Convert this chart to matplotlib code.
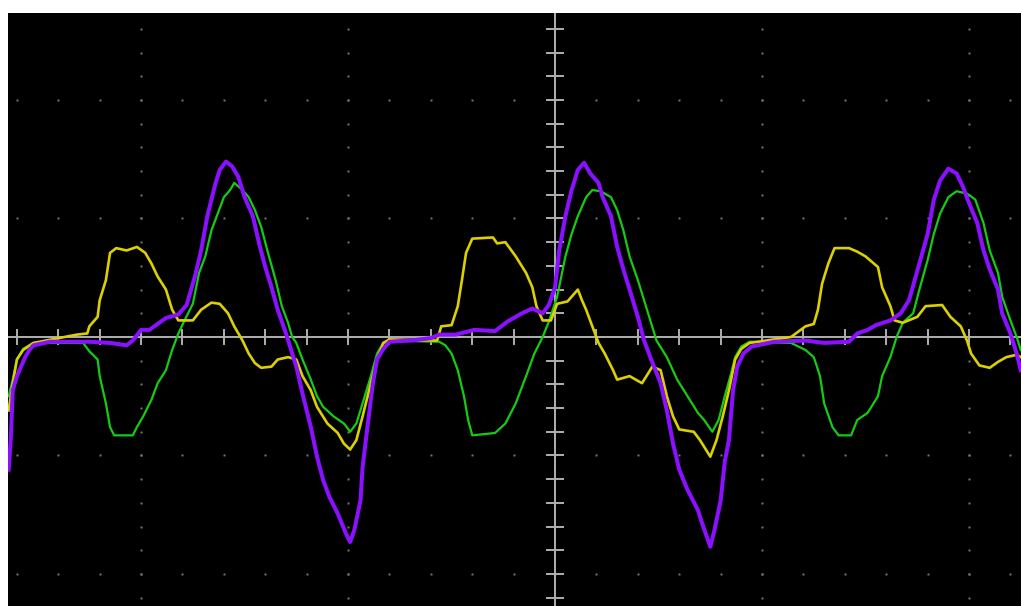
import matplotlib
matplotlib.use("Agg")
import matplotlib.pyplot as plt
import numpy as np

# scope screen, values in divisions (x: time div, y: volts div)
purple_t = [-2.64, -2.63, -2.62, -2.60, -2.58, -2.56, -2.54, -2.52, -2.44, -2.36, -2.25, -2.15, -2.07, -2.04,
            -2.00, -1.96, -1.88, -1.82, -1.78, -1.74, -1.71, -1.68, -1.64, -1.62, -1.59, -1.56, -1.53, -1.50,
            -1.46, -1.43, -1.40, -1.37, -1.34, -1.30, -1.27, -1.25, -1.22, -1.18, -1.15, -1.12, -1.09, -1.05,
            -1.01, -0.99, -0.97, -0.94, -0.93, -0.91, -0.88, -0.86, -0.83, -0.80, -0.70, -0.60, -0.56, -0.48,
            -0.39, -0.29, -0.23, -0.16, -0.11, -0.06, -0.03, 0.00, 0.02, 0.05, 0.08, 0.11, 0.14, 0.17, 0.21,
            0.23, 0.27, 0.30, 0.33, 0.36, 0.40, 0.43, 0.46, 0.51, 0.54, 0.57, 0.60, 0.64, 0.69, 0.71, 0.75,
            0.77, 0.80, 0.82, 0.84, 0.86, 0.88, 0.91, 0.95, 1.06, 1.21, 1.30, 1.42, 1.46, 1.51, 1.55, 1.62,
            1.67, 1.71, 1.76, 1.80, 1.83, 1.86, 1.90, 1.94, 1.97, 2.00, 2.04, 2.07, 2.10, 2.14, 2.16, 2.20,
            2.23, 2.25]
purple_v = [-1.12, -0.87, -0.45, -0.33, -0.25, -0.17, -0.11, -0.07, -0.04, -0.04, -0.04, -0.05, -0.07, -0.03,
            0.06, 0.06, 0.16, 0.19, 0.27, 0.51, 0.73, 1.02, 1.30, 1.41, 1.48, 1.44, 1.35, 1.18,
            1.02, 0.79, 0.59, 0.42, 0.23, 0.03, -0.14, -0.25, -0.48, -0.76, -1.01, -1.21, -1.35, -1.49,
            -1.66, -1.73, -1.63, -1.38, -1.10, -0.81, -0.39, -0.19, -0.10, -0.04, -0.03, -0.01, 0.02, 0.02,
            0.06, 0.05, 0.13, 0.20, 0.24, 0.20, 0.27, 0.42, 0.73, 1.02, 1.24, 1.41, 1.47, 1.38, 1.30,
            1.18, 1.02, 0.76, 0.57, 0.40, 0.17, -0.03, -0.17, -0.39, -0.62, -0.90, -1.12, -1.29, -1.46, -1.57, -1.77,
            -1.63, -1.38, -1.05, -0.87, -0.45, -0.25, -0.14, -0.08, -0.04, -0.03, -0.05, -0.04, 0.03, 0.06, 0.10, 0.14,
            0.20, 0.31, 0.62, 0.87, 1.16, 1.32, 1.42, 1.38, 1.27, 1.13, 0.96, 0.73, 0.57, 0.40, 0.20, 0.03,
            -0.14, -0.28]

green_t = [-2.64, -2.62, -2.60, -2.57, -2.52, -2.28, -2.25, -2.21, -2.20, -2.17, -2.15, -2.13, -2.04, -2.02,
           -1.99, -1.95, -1.92, -1.88, -1.85, -1.82, -1.79, -1.75, -1.72, -1.69, -1.66, -1.63, -1.60, -1.57,
           -1.55, -1.51, -1.48, -1.45, -1.42, -1.39, -1.35, -1.32, -1.29, -1.27, -1.25, -1.22, -1.18, -1.15,
           -1.12, -1.07, -1.02, -0.99, -0.96, -0.93, -0.89, -0.86, -0.83, -0.80, -0.56, -0.53, -0.50, -0.47,
           -0.44, -0.42, -0.40, -0.29, -0.24, -0.19, -0.14, -0.10, -0.06, -0.03, 0.01, 0.05, 0.08, 0.11,
           0.15, 0.18, 0.22, 0.27, 0.30, 0.33, 0.36, 0.40, 0.43, 0.46, 0.49, 0.54, 0.59, 0.64, 0.69, 0.72,
           0.76, 0.79, 0.82, 0.85, 0.87, 0.90, 0.94, 1.14, 1.21, 1.25, 1.28, 1.30, 1.34, 1.37, 1.43, 1.46,
           1.51, 1.56, 1.58, 1.62, 1.65, 1.68, 1.73, 1.76, 1.80, 1.83, 1.86, 1.90, 1.94, 1.99, 2.03, 2.07,
           2.10, 2.14, 2.16, 2.20, 2.23, 2.25]
green_v = [-0.50, -0.36, -0.19, -0.10, -0.05, -0.05, -0.12, -0.19, -0.33, -0.56, -0.76, -0.83, -0.83, -0.76,
           -0.67, -0.53, -0.39, -0.28, -0.11, 0.03, 0.14, 0.28, 0.54, 0.68, 0.90, 1.04, 1.18, 1.24,
           1.30, 1.24, 1.18, 1.07, 0.93, 0.73, 0.48, 0.26, 0.12, 0.00, -0.05, -0.19, -0.36, -0.50,
           -0.59, -0.67, -0.73, -0.80, -0.73, -0.56, -0.33, -0.14, -0.05, -0.03, -0.04, -0.07, -0.14, -0.28,
           -0.50, -0.70, -0.83, -0.81, -0.73, -0.56, -0.33, -0.14, 0.00, 0.13, 0.34, 0.68, 0.87, 1.02,
           1.18, 1.24, 1.23, 1.18, 1.07, 0.90, 0.68, 0.48, 0.31, 0.14, -0.03, -0.17, -0.36, -0.50, -0.64, -0.70,
           -0.80, -0.70, -0.50, -0.31, -0.17, -0.08, -0.04, -0.05, -0.11, -0.17, -0.33, -0.56, -0.76, -0.83, -0.83, -0.70,
           -0.64, -0.50, -0.33, -0.17, 0.00, 0.12, 0.20, 0.40, 0.65, 0.87, 1.04, 1.18, 1.23, 1.21, 1.16, 0.96,
           0.73, 0.54, 0.34, 0.14, 0.00, -0.11]

yellow_t = [-2.64, -2.62, -2.60, -2.57, -2.52, -2.31, -2.26, -2.25, -2.21, -2.20, -2.17, -2.15, -2.12, -2.07,
            -2.02, -1.98, -1.95, -1.92, -1.88, -1.85, -1.82, -1.75, -1.71, -1.66, -1.62, -1.58, -1.55, -1.51,
            -1.48, -1.45, -1.42, -1.37, -1.34, -1.29, -1.25, -1.22, -1.18, -1.15, -1.10, -1.05, -1.02, -0.99,
            -0.96, -0.93, -0.89, -0.86, -0.83, -0.80, -0.57, -0.55, -0.50, -0.47, -0.45, -0.43, -0.40, -0.30,
            -0.28, -0.24, -0.19, -0.14, -0.11, -0.09, -0.06, -0.02, 0.01, 0.06, 0.11, 0.13, 0.15, 0.18,
            0.21, 0.24, 0.28, 0.30, 0.36, 0.42, 0.47, 0.51, 0.54, 0.57, 0.60, 0.67, 0.70, 0.75, 0.78, 0.81,
            0.84, 0.87, 0.90, 0.94, 1.14, 1.21, 1.25, 1.27, 1.29, 1.32, 1.35, 1.42, 1.46, 1.50, 1.56, 1.58,
            1.62, 1.64, 1.68, 1.75, 1.79, 1.87, 1.91, 1.96, 1.99, 2.01, 2.05, 2.10, 2.14, 2.18, 2.23, 2.25]
yellow_v = [-0.62, -0.39, -0.19, -0.11, -0.05, 0.02, 0.03, 0.09, 0.17, 0.31, 0.48, 0.71, 0.75, 0.73,
            0.76, 0.71, 0.62, 0.51, 0.40, 0.23, 0.14, 0.14, 0.23, 0.29, 0.28, 0.20, 0.09, -0.03,
            -0.14, -0.22, -0.26, -0.25, -0.19, -0.17, -0.19, -0.33, -0.45, -0.59, -0.73, -0.81, -0.90, -0.95,
            -0.87, -0.67, -0.39, -0.19, -0.05, -0.02, -0.03, 0.09, 0.10, 0.26, 0.48, 0.71, 0.83, 0.84,
            0.79, 0.80, 0.68, 0.54, 0.42, 0.26, 0.14, 0.14, 0.28, 0.30, 0.40, 0.31, 0.23, 0.09,
            -0.05, -0.14, -0.28, -0.36, -0.33, -0.39, -0.25, -0.28, -0.50, -0.67, -0.78, -0.80, -0.87, -1.01, -0.87, -0.67,
            -0.45, -0.19, -0.10, -0.05, 0.00, 0.09, 0.11, 0.23, 0.45, 0.62, 0.75, 0.75, 0.72, 0.68, 0.59, 0.42,
            0.26, 0.14, 0.12, 0.17, 0.26, 0.27, 0.17, 0.09, -0.03, -0.14, -0.24, -0.26, -0.21, -0.17, -0.15, -0.17]

X_MIN, X_MAX = -2.643, 2.251
Y_MIN, Y_MAX = -2.270, 2.734
MINOR = 0.2

fig = plt.figure(figsize=(10.21, 6.06), dpi=100, facecolor="white")
ax = fig.add_axes([8 / 1021, 0, 1013 / 1021, 593 / 606])
ax.set_facecolor("black")
ax.set_xlim(X_MIN, X_MAX)
ax.set_ylim(Y_MIN, Y_MAX)
ax.set_xticks([])
ax.set_yticks([])
for s in ax.spines.values():
    s.set_visible(False)

grid_col = "#7a7a7a"
xs_minor = np.arange(-2.6, 2.21, MINOR)
ys_minor = np.arange(-2.2, 2.61, MINOR)
for gx in [-2, -1, 1, 2]:
    ax.plot(np.full(len(ys_minor), gx), ys_minor, ls="none", marker="s", ms=1.4, color=grid_col, mew=0)
for gy in [-2, -1, 1, 2]:
    ax.plot(xs_minor, np.full(len(xs_minor), gy), ls="none", marker="s", ms=1.4, color=grid_col, mew=0)

axis_col = "#b0b0b0"
ax.axhline(0, color=axis_col, lw=1.4, zorder=2)
ax.axvline(0, color=axis_col, lw=1.4, zorder=2)
for tx in xs_minor:
    if abs(tx) > 1e-6:
        ax.plot([tx, tx], [-0.063, 0.063], color=axis_col, lw=1.4, zorder=2)
for ty in ys_minor:
    if abs(ty) > 1e-6:
        ax.plot([-0.039, 0.039], [ty, ty], color=axis_col, lw=1.4, zorder=2)

ax.plot(green_t, green_v, color="#14cc14", lw=1.6, zorder=3)
ax.plot(yellow_t, yellow_v, color="#dcd000", lw=1.9, zorder=4)
ax.plot(purple_t, purple_v, color="#8a10ff", lw=2.9, zorder=5)

fig.savefig("out.png", dpi=100, facecolor="white")
